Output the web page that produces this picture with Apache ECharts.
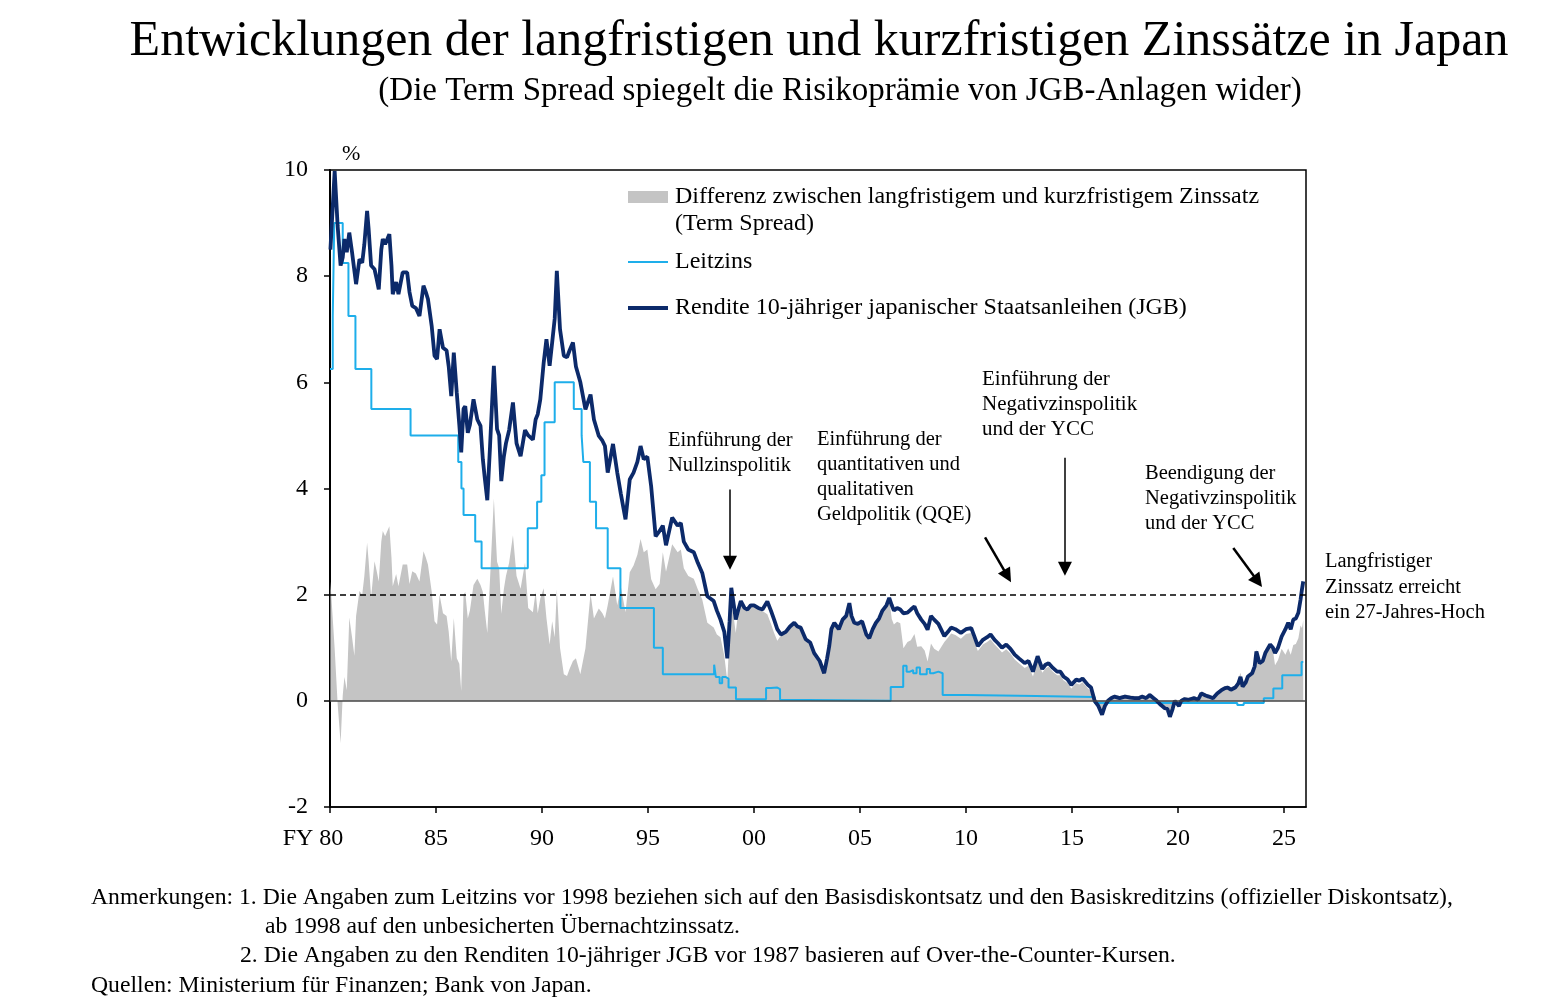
<!DOCTYPE html>
<html>
<head>
<meta charset="utf-8">
<title>Zinssätze Japan</title>
<script src="https://cdn.jsdelivr.net/npm/echarts@6/dist/echarts.min.js"></script>
<style>
  html, body { margin: 0; padding: 0; background: #fff; }
  #chart { width: 1563px; height: 1006px; }
</style>
</head>
<body>
<div id="chart"></div>
<script>
// Rendite 10-jähriger JGB, [Jahr, %]
var jgbYield = [
  [1980.02, 8.5], [1980.22, 9.98], [1980.36, 8.95], [1980.5, 8.2], [1980.6, 8.35], [1980.68, 8.7],
  [1980.79, 8.45], [1980.91, 8.82], [1981.04, 8.45], [1981.15, 8.1], [1981.23, 7.85], [1981.39, 8.32],
  [1981.52, 8.25], [1981.62, 8.6], [1981.75, 9.23], [1981.82, 8.9], [1981.94, 8.2], [1982.1, 8.13],
  [1982.2, 7.95], [1982.3, 7.75], [1982.42, 8.5], [1982.49, 8.7], [1982.6, 8.6], [1982.8, 8.79],
  [1982.9, 8.2], [1982.96, 7.66], [1983.12, 7.89], [1983.23, 7.66], [1983.43, 8.07], [1983.64, 8.07],
  [1983.75, 7.7], [1983.88, 7.44], [1984.05, 7.4], [1984.22, 7.25], [1984.41, 7.82], [1984.52, 7.7],
  [1984.62, 7.57], [1984.8, 7.05], [1984.93, 6.5], [1985.05, 6.44], [1985.17, 7.0], [1985.33, 6.65],
  [1985.5, 6.6], [1985.6, 6.3], [1985.72, 5.74], [1985.84, 6.56], [1985.98, 5.8], [1986.1, 5.2],
  [1986.19, 4.68], [1986.3, 5.5], [1986.38, 5.55], [1986.5, 5.05], [1986.6, 5.2], [1986.77, 5.68],
  [1986.95, 5.3], [1987.1, 5.18], [1987.21, 4.55], [1987.3, 4.2], [1987.42, 3.78], [1987.55, 4.8],
  [1987.73, 6.31], [1987.88, 5.12], [1987.98, 5.0], [1988.08, 4.14], [1988.2, 4.6], [1988.3, 4.85],
  [1988.45, 5.1], [1988.63, 5.62], [1988.8, 4.85], [1988.99, 4.61], [1989.2, 5.1], [1989.35, 5.0],
  [1989.57, 4.92], [1989.7, 5.3], [1989.8, 5.4], [1989.92, 5.68], [1990.08, 6.37], [1990.21, 6.81],
  [1990.36, 6.31], [1990.48, 6.75], [1990.6, 7.2], [1990.7, 8.1], [1990.85, 7.0], [1991.03, 6.5],
  [1991.18, 6.47], [1991.3, 6.6], [1991.46, 6.75], [1991.6, 6.3], [1991.81, 6.0], [1992.05, 5.49],
  [1992.29, 5.77], [1992.45, 5.3], [1992.68, 4.99], [1992.85, 4.9], [1992.97, 4.8], [1993.1, 4.3],
  [1993.35, 4.84], [1993.55, 4.3], [1993.72, 3.9], [1993.94, 3.42], [1994.14, 4.17], [1994.32, 4.3],
  [1994.5, 4.5], [1994.65, 4.8], [1994.8, 4.55], [1994.97, 4.6], [1995.15, 4.04], [1995.36, 3.1],
  [1995.55, 3.2], [1995.7, 3.3], [1995.85, 2.93], [1996.14, 3.45], [1996.4, 3.3], [1996.55, 3.35],
  [1996.69, 3.0], [1996.9, 2.85], [1997.16, 2.8], [1997.35, 2.6], [1997.56, 2.41], [1997.8, 1.97],
  [1998.1, 1.88], [1998.25, 1.7], [1998.42, 1.53], [1998.6, 1.3], [1998.74, 0.8], [1998.85, 1.5],
  [1998.93, 2.13], [1999.05, 1.8], [1999.14, 1.53], [1999.25, 1.7], [1999.38, 1.88], [1999.55, 1.75],
  [1999.69, 1.72], [1999.85, 1.8], [2000.0, 1.8], [2000.2, 1.75], [2000.4, 1.72], [2000.63, 1.87],
  [2000.8, 1.7], [2000.95, 1.53], [2001.1, 1.35], [2001.27, 1.25], [2001.5, 1.3], [2001.7, 1.4],
  [2001.9, 1.47], [2002.05, 1.4], [2002.2, 1.38], [2002.44, 1.16], [2002.65, 1.1], [2002.84, 0.9],
  [2003.1, 0.75], [2003.31, 0.52], [2003.45, 0.8], [2003.55, 1.03], [2003.65, 1.35], [2003.79, 1.47],
  [2004.0, 1.35], [2004.18, 1.53], [2004.35, 1.6], [2004.5, 1.84], [2004.6, 1.6], [2004.73, 1.47],
  [2004.9, 1.45], [2005.1, 1.5], [2005.3, 1.25], [2005.44, 1.18], [2005.6, 1.35], [2005.75, 1.47],
  [2005.9, 1.55], [2006.06, 1.7], [2006.25, 1.8], [2006.38, 1.94], [2006.5, 1.8], [2006.6, 1.7],
  [2006.75, 1.75], [2006.9, 1.72], [2007.05, 1.65], [2007.24, 1.66], [2007.4, 1.72], [2007.57, 1.78],
  [2007.7, 1.65], [2007.89, 1.53], [2008.05, 1.45], [2008.19, 1.34], [2008.35, 1.6], [2008.5, 1.53],
  [2008.7, 1.45], [2008.98, 1.22], [2009.15, 1.3], [2009.3, 1.38], [2009.5, 1.35], [2009.76, 1.28],
  [2010.0, 1.35], [2010.25, 1.37], [2010.4, 1.21], [2010.56, 1.03], [2010.8, 1.15], [2011.0, 1.2],
  [2011.16, 1.25], [2011.35, 1.15], [2011.5, 1.09], [2011.7, 1.0], [2011.9, 1.06], [2012.1, 0.98],
  [2012.3, 0.87], [2012.5, 0.8], [2012.77, 0.71], [2012.95, 0.75], [2013.16, 0.55], [2013.38, 0.84],
  [2013.6, 0.6], [2013.75, 0.68], [2013.9, 0.71], [2014.1, 0.62], [2014.3, 0.55], [2014.45, 0.55],
  [2014.6, 0.46], [2014.8, 0.4], [2014.97, 0.3], [2015.2, 0.4], [2015.35, 0.38], [2015.5, 0.42],
  [2015.75, 0.3], [2015.9, 0.25], [2016.07, 0.0], [2016.25, -0.1], [2016.42, -0.26], [2016.55, -0.1],
  [2016.7, 0.0], [2016.85, 0.05], [2017.0, 0.08], [2017.25, 0.05], [2017.5, 0.08], [2017.75, 0.06],
  [2017.96, 0.05], [2018.15, 0.05], [2018.3, 0.08], [2018.5, 0.05], [2018.67, 0.11], [2018.85, 0.05],
  [2019.0, 0.0], [2019.2, -0.08], [2019.38, -0.14], [2019.5, -0.15], [2019.62, -0.3], [2019.75, -0.15],
  [2019.85, 0.0], [2020.05, -0.1], [2020.15, 0.0], [2020.3, 0.03], [2020.5, 0.02], [2020.77, 0.05],
  [2020.95, 0.02], [2021.1, 0.14], [2021.3, 0.1], [2021.45, 0.08], [2021.65, 0.05], [2021.85, 0.14],
  [2022.05, 0.2], [2022.22, 0.24], [2022.35, 0.25], [2022.5, 0.21], [2022.7, 0.25], [2022.85, 0.33],
  [2022.95, 0.45], [2023.05, 0.27], [2023.2, 0.35], [2023.3, 0.46], [2023.5, 0.52], [2023.62, 0.65],
  [2023.7, 0.93], [2023.85, 0.71], [2024.0, 0.75], [2024.12, 0.9], [2024.35, 1.06], [2024.48, 1.0],
  [2024.58, 0.9], [2024.72, 1.0], [2024.89, 1.21], [2025.07, 1.35], [2025.2, 1.47], [2025.32, 1.35],
  [2025.44, 1.53], [2025.56, 1.55], [2025.68, 1.66], [2025.78, 1.9], [2025.85, 2.1], [2025.91, 2.25]
];

// Leitzins, Stufen [Jahr ab, %]
var policyRate = [
  [1980.0, 6.25], [1980.13, 7.25], [1980.2, 9.0], [1980.6, 8.25], [1980.87, 7.25], [1981.2, 6.25],
  [1981.95, 5.5], [1983.8, 5.0], [1986.05, 4.5], [1986.2, 4.0], [1986.3, 3.5], [1986.85, 3.0],
  [1987.15, 2.5], [1989.33, 3.25], [1989.77, 3.75], [1989.97, 4.25], [1990.12, 5.25], [1990.6, 6.0],
  [1991.5, 5.5], [1991.87, 5.0], [1991.95, 4.5], [1992.26, 3.75], [1992.55, 3.25], [1993.1, 2.5],
  [1993.7, 1.75], [1995.28, 1.0], [1995.7, 0.5], [1998.12, 0.68], [1998.2, 0.45], [1998.38, 0.33],
  [1998.5, 0.45], [1998.65, 0.42], [1998.8, 0.25], [1999.15, 0.03], [2000.57, 0.24], [2000.8, 0.25],
  [2001.1, 0.22], [2001.23, 0.02], [2001.3, 0.001], [2006.45, 0.26], [2007.04, 0.66], [2007.2, 0.55],
  [2007.36, 0.58], [2007.51, 0.52], [2007.67, 0.63], [2007.83, 0.5], [2008.15, 0.6], [2008.3, 0.52],
  [2008.46, 0.55], [2008.7, 0.52], [2008.9, 0.11], [2010.0, 0.09], [2013.3, 0.07], [2016.07, -0.04],
  [2022.8, -0.08], [2023.1, -0.04], [2024.05, 0.05], [2024.5, 0.23], [2024.92, 0.48], [2025.83, 0.73],
  [2025.91, 0.73]
];

var yTicks = { min: -2, max: 10, step: 2 };
var xTicks = { min: 1980, max: 2026.04, step: 5 };

var nameSpread = 'Differenz zwischen langfristigem und kurzfristigem Zinssatz';
var namePolicy = 'Leitzins';
var nameJgb = 'Rendite 10-jähriger japanischer Staatsanleihen (JGB)';

function policyAt(t) {
  var v = policyRate[0][1];
  for (var i = 0; i < policyRate.length; i++) {
    if (policyRate[i][0] <= t) v = policyRate[i][1];
    else break;
  }
  return v;
}
// Term Spread = JGB-Rendite minus Leitzins
var termSpread = jgbYield.map(function (p) {
  return [p[0], +(p[1] - policyAt(p[0])).toFixed(3)];
});

var serif = '"Liberation Serif", "DejaVu Serif", serif';
var chart = echarts.init(document.getElementById('chart'));

function legendAt(name, top, h) {
  return {
    data: [name], left: 628, top: top, padding: 0, icon: 'rect', itemWidth: 40, itemHeight: h,
    itemGap: 0, selectedMode: false,
    textStyle: { fontFamily: serif, fontSize: 24, color: '#000', padding: [0, 0, 0, 2] }
  };
}

var option = {
  animation: false,
  backgroundColor: '#fff',
  textStyle: { fontFamily: serif, color: '#000' },
  title: [
    {
      text: 'Entwicklungen der langfristigen und kurzfristigen Zinssätze in Japan',
      left: 814, top: 12, textAlign: 'center',
      textStyle: { fontFamily: serif, fontSize: 50, fontWeight: 'normal', color: '#000' }
    },
    {
      text: '(Die Term Spread spiegelt die Risikoprämie von JGB-Anlagen wider)',
      left: 835, top: 70, textAlign: 'center',
      textStyle: { fontFamily: serif, fontSize: 33, fontWeight: 'normal', color: '#000' }
    }
  ],
  legend: [
    legendAt(nameSpread, 185, 12),
    legendAt(namePolicy, 250, 2),
    legendAt(nameJgb, 296, 4)
  ],
  grid: {
    left: 330, right: 257, top: 170, bottom: 199,
    show: true, borderColor: '#000', borderWidth: 1.5, backgroundColor: 'transparent'
  },
  xAxis: {
    type: 'value', min: xTicks.min, max: xTicks.max, interval: xTicks.step,
    axisLine: { onZero: false, lineStyle: { color: '#000', width: 1.5 } },
    axisTick: { show: true, inside: false, length: 6, lineStyle: { color: '#000', width: 1.5 } },
    splitLine: { show: false },
    axisLabel: {
      fontFamily: serif, fontSize: 24, color: '#000', margin: 20, showMaxLabel: false,
      rich: {
        fy: { fontFamily: serif, fontSize: 24, color: '#000' },
        pad: { width: 34 }
      },
      formatter: function (v) {
        var r = Math.round(v);
        if (Math.abs(v - r) > 1e-6 || r % 5 !== 0) return '';
        var s = String(r % 100);
        if (s.length < 2) s = '0' + s;
        return r === 1980 ? '{fy|FY ' + s + '}{pad|}' : s;
      }
    }
  },
  yAxis: {
    type: 'value', min: yTicks.min, max: yTicks.max, interval: yTicks.step,
    name: '%', nameLocation: 'end', nameGap: 5,
    nameTextStyle: { fontFamily: serif, fontSize: 22, color: '#000', align: 'left', padding: [0, 0, 0, 12] },
    axisLine: { show: true, lineStyle: { color: '#000', width: 2 } },
    axisTick: { show: true, inside: false, length: 6, lineStyle: { color: '#000', width: 1.5 } },
    splitLine: { show: false },
    axisLabel: { fontFamily: serif, fontSize: 24, color: '#000', margin: 22 }
  },
  series: [
    {
      name: nameSpread, type: 'line', data: termSpread, z: 1,
      symbol: 'none', lineStyle: { width: 0 }, itemStyle: { color: '#c4c4c4' },
      areaStyle: { color: '#c4c4c4', opacity: 1, origin: 0 },
      markLine: {
        silent: true, symbol: 'none', label: { show: false },
        data: [
          { yAxis: 0, lineStyle: { color: '#444', width: 1.5, type: 'solid' } },
          { yAxis: 2, lineStyle: { color: '#000', width: 1.5, type: [6, 4] } }
        ]
      }
    },
    {
      name: namePolicy, type: 'line', data: policyRate, step: 'end', z: 3,
      symbol: 'none', lineStyle: { width: 2, color: '#1eaeea' }, itemStyle: { color: '#1eaeea' },
      markLine: {
        silent: true, symbol: ['none', 'triangle'], symbolSize: 14, label: { show: false },
        itemStyle: { color: '#000' },
        data: [
          [{ coord: [1998.87, 3.98], lineStyle: { color: '#000', width: 1.5, type: 'solid' } }, { coord: [1998.87, 2.6] }],
          [{ coord: [2010.9, 3.08], lineStyle: { color: '#000', width: 2.5, type: 'solid' } }, { coord: [2011.96, 2.35] }],
          [{ coord: [2014.67, 4.58], lineStyle: { color: '#000', width: 1.5, type: 'solid' } }, { coord: [2014.67, 2.49] }],
          [{ coord: [2022.61, 2.88], lineStyle: { color: '#000', width: 2.5, type: 'solid' } }, { coord: [2023.77, 2.25] }]
        ]
      }
    },
    {
      name: nameJgb, type: 'line', data: jgbYield, z: 4,
      symbol: 'none', lineStyle: { width: 3.8, color: '#0c2a6a' }, itemStyle: { color: '#0c2a6a' }
    }
  ],
  graphic: [
    { type: 'text', left: 675, top: 212, style: { text: '(Term Spread)', font: '24px ' + serif, fill: '#000' } },
    { type: 'text', left: 668, top: 428, style: { text: 'Einführung der\nNullzinspolitik', font: '20.5px ' + serif, lineHeight: 25, fill: '#000' } },
    { type: 'text', left: 817, top: 427, style: { text: 'Einführung der\nquantitativen und\nqualitativen\nGeldpolitik (QQE)', font: '20.5px ' + serif, lineHeight: 25, fill: '#000' } },
    { type: 'text', left: 982, top: 367, style: { text: 'Einführung der\nNegativzinspolitik\nund der YCC', font: '21px ' + serif, lineHeight: 25, fill: '#000' } },
    { type: 'text', left: 1145, top: 461, style: { text: 'Beendigung der\nNegativzinspolitik\nund der YCC', font: '20.5px ' + serif, lineHeight: 25, fill: '#000' } },
    { type: 'text', left: 1325, top: 549, style: { text: 'Langfristiger\nZinssatz erreicht\nein 27-Jahres-Hoch', font: '20.5px ' + serif, lineHeight: 25.5, fill: '#000' } },
    { type: 'text', left: 91, top: 886, style: { text: 'Anmerkungen: 1. Die Angaben zum Leitzins vor 1998 beziehen sich auf den Basisdiskontsatz und den Basiskreditzins (offizieller Diskontsatz),', font: '23.7px ' + serif, fill: '#000' } },
    { type: 'text', left: 265, top: 915, style: { text: 'ab 1998 auf den unbesicherten Übernachtzinssatz.', font: '23.7px ' + serif, fill: '#000' } },
    { type: 'text', left: 240, top: 944, style: { text: '2. Die Angaben zu den Renditen 10-jähriger JGB vor 1987 basieren auf Over-the-Counter-Kursen.', font: '23.7px ' + serif, fill: '#000' } },
    { type: 'text', left: 91, top: 974, style: { text: 'Quellen: Ministerium für Finanzen; Bank von Japan.', font: '23.7px ' + serif, fill: '#000' } }
  ]
};

chart.setOption(option);
</script>
</body>
</html>
